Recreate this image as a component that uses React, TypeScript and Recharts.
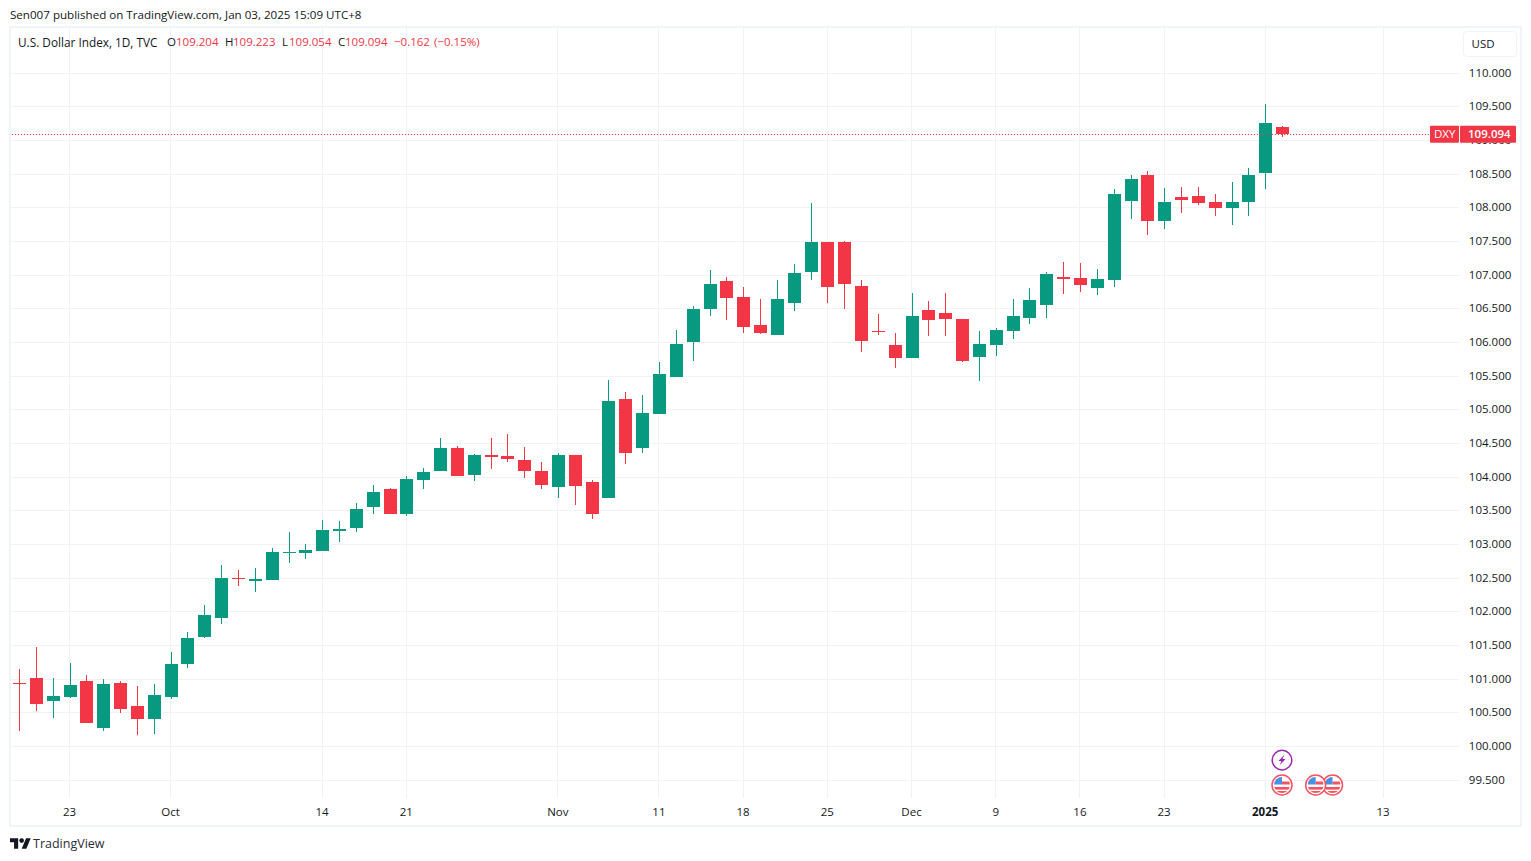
import { Bar, CartesianGrid, ComposedChart, ReferenceDot, ReferenceLine, XAxis, YAxis } from 'recharts'

const UP = '#089981'
const DOWN = '#F23645'
const GRID = '#f2f2f4'
const TEXT = '#131722'
const FONT = '"Open Sans", sans-serif'

const dates = [
  '09-18', '09-19', '09-20', '09-23', '09-24', '09-25', '09-26', '09-27', '09-30', '10-01',
  '10-02', '10-03', '10-04', '10-07', '10-08', '10-09', '10-10', '10-11', '10-14', '10-15',
  '10-16', '10-17', '10-18', '10-21', '10-22', '10-23', '10-24', '10-25', '10-28', '10-29',
  '10-30', '10-31', '11-01', '11-04', '11-05', '11-06', '11-07', '11-08', '11-11', '11-12',
  '11-13', '11-14', '11-15', '11-18', '11-19', '11-20', '11-21', '11-22', '11-25', '11-26',
  '11-27', '11-28', '11-29', '12-02', '12-03', '12-04', '12-05', '12-06', '12-09', '12-10',
  '12-11', '12-12', '12-13', '12-16', '12-17', '12-18', '12-19', '12-20', '12-23', '12-24',
  '12-26', '12-27', '12-30', '12-31', '01-02', '01-03',
]
const futureDates = ['01-06', '01-07', '01-08', '01-09', '01-10', '01-13', '01-14', '01-15', '01-16', '01-17']

const opens = [
  100.945, 101.019, 100.677, 100.737, 100.974, 100.276, 100.945, 100.603, 100.41, 100.737,
  101.227, 101.628, 101.91, 102.504, 102.459, 102.475, 102.882, 102.875, 102.905, 103.202,
  103.247, 103.559, 103.826, 103.455, 103.96, 104.093, 104.435, 104.034, 104.331, 104.316,
  104.257, 104.093, 103.856, 104.331, 103.93, 103.692, 105.163, 104.435, 104.94, 105.489,
  106.009, 106.499, 106.915, 106.678, 106.262, 106.113, 106.589, 107.049, 107.495, 107.495,
  106.841, 106.173, 105.965, 105.772, 106.485, 106.44, 106.351, 105.786, 105.965, 106.173,
  106.366, 106.559, 106.975, 106.96, 106.811, 106.93, 108.103, 108.49, 107.806, 108.163,
  108.178, 108.089, 108.0, 108.089, 108.52, 109.204,
]
const highs = [
  101.153, 101.48, 101.019, 101.242, 101.064, 101.004, 100.974, 100.9, 100.93, 101.405,
  101.702, 102.103, 102.697, 102.623, 102.652, 102.949, 103.187, 103.009, 103.366, 103.351,
  103.618, 103.885, 103.84, 104.019, 104.138, 104.583, 104.465, 104.346, 104.583, 104.643,
  104.45, 104.227, 104.361, 104.331, 103.96, 105.445, 105.267, 105.222, 105.712, 106.187,
  106.544, 107.079, 106.975, 106.826, 106.648, 106.93, 107.168, 108.074, 107.495, 107.51,
  106.93, 106.425, 106.143, 106.737, 106.618, 106.737, 106.351, 106.173, 106.217, 106.648,
  106.811, 107.049, 107.197, 107.182, 107.093, 108.282, 108.49, 108.549, 108.297, 108.311,
  108.311, 108.208, 108.386, 108.594, 109.544, 109.223,
]
const lows = [
  100.232, 100.529, 100.425, 100.722, 100.351, 100.232, 100.499, 100.173, 100.187, 100.707,
  101.168, 101.613, 101.821, 102.385, 102.296, 102.475, 102.727, 102.786, 102.905, 103.039,
  103.187, 103.455, 103.455, 103.425, 103.826, 104.093, 104.019, 103.945, 104.123, 104.227,
  103.99, 103.826, 103.692, 103.588, 103.381, 103.692, 104.197, 104.361, 104.94, 105.489,
  105.727, 106.396, 106.336, 106.143, 106.128, 106.113, 106.47, 106.93, 106.589, 106.499,
  105.86, 106.113, 105.623, 105.772, 106.098, 106.098, 105.712, 105.43, 105.801, 106.054,
  106.277, 106.366, 106.722, 106.752, 106.707, 106.826, 107.836, 107.599, 107.688, 107.925,
  108.044, 107.881, 107.747, 107.881, 108.282, 109.054,
]
const closes = [
  100.936, 100.633, 100.752, 100.915, 100.351, 100.93, 100.559, 100.41, 100.767, 101.227,
  101.613, 101.955, 102.504, 102.495, 102.489, 102.89, 102.89, 102.92, 103.217, 103.232,
  103.529, 103.781, 103.455, 103.974, 104.078, 104.435, 104.019, 104.331, 104.301, 104.271,
  104.093, 103.885, 104.331, 103.871, 103.455, 105.133, 104.361, 104.955, 105.534, 105.979,
  106.499, 106.871, 106.663, 106.232, 106.143, 106.648, 107.034, 107.495, 106.826, 106.871,
  106.024, 106.164, 105.772, 106.395, 106.336, 106.351, 105.727, 105.979, 106.187, 106.395,
  106.633, 107.019, 106.945, 106.856, 106.945, 108.207, 108.43, 107.806, 108.089, 108.118,
  108.074, 108.0, 108.089, 108.49, 109.262, 109.094,
]

const priceTicks = [
  99.5, 100, 100.5, 101, 101.5, 102, 102.5, 103, 103.5, 104, 104.5, 105, 105.5, 106, 106.5,
  107, 107.5, 108, 108.5, 109, 109.5, 110,
]
const priceDomain = [99.237, 110.673]
const timeTicks = ['09-23', '10-01', '10-14', '10-21', '11-01', '11-11', '11-18', '11-25', '12-02', '12-09', '12-16', '12-23', '01-02', '01-13']
const timeLabels = ['23', 'Oct', '14', '21', 'Nov', '11', '18', '25', 'Dec', '9', '16', '23', '2025', '13']

const lastPrice = 109.094
const flagEvents = ['01-08', '01-07', '01-03']
const flagPrice = 99.43
const boltDate = '01-03'
const boltPrice = 99.8

const legendParts: [string, number, string, number][] = [
  ['U.S. Dollar Index, 1D, TVC', 18, TEXT, 11.8],
  ['O', 167, TEXT, 11.5], ['109.204', 176, DOWN, 11.5],
  ['H', 225, TEXT, 11.5], ['109.223', 233, DOWN, 11.5],
  ['L', 282, TEXT, 11.5], ['109.054', 289, DOWN, 11.5],
  ['C', 338, TEXT, 11.5], ['109.094', 345, DOWN, 11.5],
  ['−0.162', 394, DOWN, 11.5], ['(−0.15%)', 434, DOWN, 11.5],
]

const rows = [
  ...dates.map((date, i) => ({
    date, open: opens[i], close: closes[i], high: highs[i], low: lows[i], range: [lows[i], highs[i]],
  })),
  ...futureDates.map((date) => ({ date })),
]

function Candle(props: any) {
  const { x, y, width, height, payload } = props
  if (!payload || payload.high === undefined) return null
  const { open, close, high, low } = payload
  const yOf = (v: number) => y + ((high - v) / (high - low)) * height
  const color = close >= open ? UP : DOWN
  const top = yOf(Math.max(open, close))
  const bottom = yOf(Math.min(open, close))
  const mid = Math.round(x + width / 2)
  return (
    <g shapeRendering="crispEdges">
      <rect x={mid} y={y} width={1} height={height} fill={color} />
      <rect x={mid - 6} y={Math.round(top)} width={13} height={Math.max(1, Math.round(bottom - top))} fill={color} />
    </g>
  )
}

function TimeTick({ x, y, payload }: any) {
  const label = timeLabels[timeTicks.indexOf(payload.value)]
  return (
    <text x={x} y={y + 10} textAnchor="middle" fontSize={11.5} fontFamily={FONT} fill={TEXT} fontWeight={label === '2025' ? 700 : 400}>
      {label}
    </text>
  )
}

// the last price comes last in the tick list so its tag covers the 109.000 label
function PriceTick({ x, y, payload }: any) {
  if (payload.value === lastPrice) {
    return (
      <g fontFamily={FONT} fontSize={11.5} fill="#fff">
        <rect x={x - 38.8} y={y - 8.5} width={29} height={17} rx={1} fill={DOWN} />
        <rect x={x - 8.8} y={y - 8.5} width={56} height={17} rx={1} fill={DOWN} />
        <text x={x - 34.8} y={y + 4}>DXY</text>
        <text x={x - 0.8} y={y + 4} fontWeight={600}>{lastPrice.toFixed(3)}</text>
      </g>
    )
  }
  return (
    <text x={x} y={y + 3.4} fontSize={11.5} fontFamily={FONT} fill={TEXT}>
      {payload.value.toFixed(3)}
    </text>
  )
}

function FlagIcon({ cx, cy }: any) {
  const id = `flag-${Math.round(cx)}`
  return (
    <g transform={`translate(${cx},${cy})`}>
      <clipPath id={id}><circle r={8} /></clipPath>
      <circle r={10} fill="#fff" stroke="#f7525f" strokeWidth={1.5} />
      <g clipPath={`url(#${id})`}>
        <rect x={-8} y={-8} width={16} height={16} fill="#fff" />
        <rect x={0} y={-3.5} width={8} height={3} fill="#f7525f" />
        <rect x={-8} y={2} width={16} height={2.6} fill="#f7525f" />
        <rect x={-8} y={6} width={16} height={2.5} fill="#f7525f" />
        <rect x={-8} y={-8} width={8} height={7.5} fill="#4a90e2" />
      </g>
    </g>
  )
}

function BoltIcon({ cx, cy }: any) {
  return (
    <g transform={`translate(${cx},${cy})`}>
      <circle r={9.8} fill="#fff" stroke="#9c27b0" strokeWidth={1.5} />
      <path d="M2.2 -5 L-3.6 1 L-0.6 1 L-2.2 5 L3.6 -1 L0.6 -1 Z" fill="#9c27b0" />
    </g>
  )
}

export default function App() {
  return (
    <div style={{ position: 'absolute', left: 0, top: 0, width: 1531, height: 861, background: '#fff', overflow: 'hidden', fontFamily: FONT, color: TEXT, fontSize: 12 }}>
      <div style={{ position: 'absolute', left: 9, top: 26, width: 1513, height: 801, boxSizing: 'border-box', border: '2px solid #f0f3fa' }} />
      <ComposedChart
        width={1531}
        height={861}
        data={rows}
        barCategoryGap={0}
        margin={{ top: 28, right: 10, bottom: 35, left: 10.58 }}
        style={{ position: 'absolute', left: 0, top: 0 }}
      >
        <CartesianGrid stroke={GRID} strokeWidth={1} shapeRendering="crispEdges" syncWithTicks />
        <XAxis dataKey="date" ticks={timeTicks} interval={0} height={28} axisLine={false} tickLine={false} tick={<TimeTick />} />
        <YAxis
          orientation="right"
          width={62.18}
          domain={priceDomain}
          ticks={[...priceTicks, lastPrice]}
          interval={0}
          axisLine={false}
          tickLine={false}
          tickMargin={4}
          tick={<PriceTick />}
        />
        <Bar dataKey="range" shape={<Candle />} isAnimationActive={false} />
        <ReferenceLine y={lastPrice} stroke={DOWN} strokeDasharray="1 2" shapeRendering="crispEdges" />
        <ReferenceDot x={boltDate} y={boltPrice} shape={<BoltIcon />} />
        {flagEvents.map((d) => (
          <ReferenceDot key={d} x={d} y={flagPrice} shape={<FlagIcon />} />
        ))}
      </ComposedChart>
      <div style={{ position: 'absolute', left: 10, top: 7, lineHeight: '16px', fontSize: 11.6, whiteSpace: 'nowrap' }}>
        Sen007 published on TradingView.com, Jan 03, 2025 15:09 UTC+8
      </div>
      {legendParts.map(([text, left, color, size]) => (
        <span key={text + left} style={{ position: 'absolute', left, top: 34, lineHeight: '16px', color, whiteSpace: 'nowrap', fontSize: size }}>
          {text}
        </span>
      ))}
      <div style={{ position: 'absolute', left: 1463, top: 31, width: 54, height: 26, boxSizing: 'border-box', border: '1.5px solid #f0f3fa', borderRadius: 4, background: '#fff', lineHeight: '24px', paddingLeft: 7.5, fontSize: 11.5 }}>
        USD
      </div>
      <svg style={{ position: 'absolute', left: 10, top: 838 }} width={21} height={11} viewBox="0 4 36 18">
        <path d="M14 22H7V11H0V4h14v18zM28 22h-8l7.5-18h8L28 22z" fill={TEXT} />
        <circle cx={20} cy={8} r={4} fill={TEXT} />
      </svg>
      <div style={{ position: 'absolute', left: 33, top: 835, fontSize: 12.5, lineHeight: '18px', color: '#2a2e39' }}>TradingView</div>
    </div>
  )
}
